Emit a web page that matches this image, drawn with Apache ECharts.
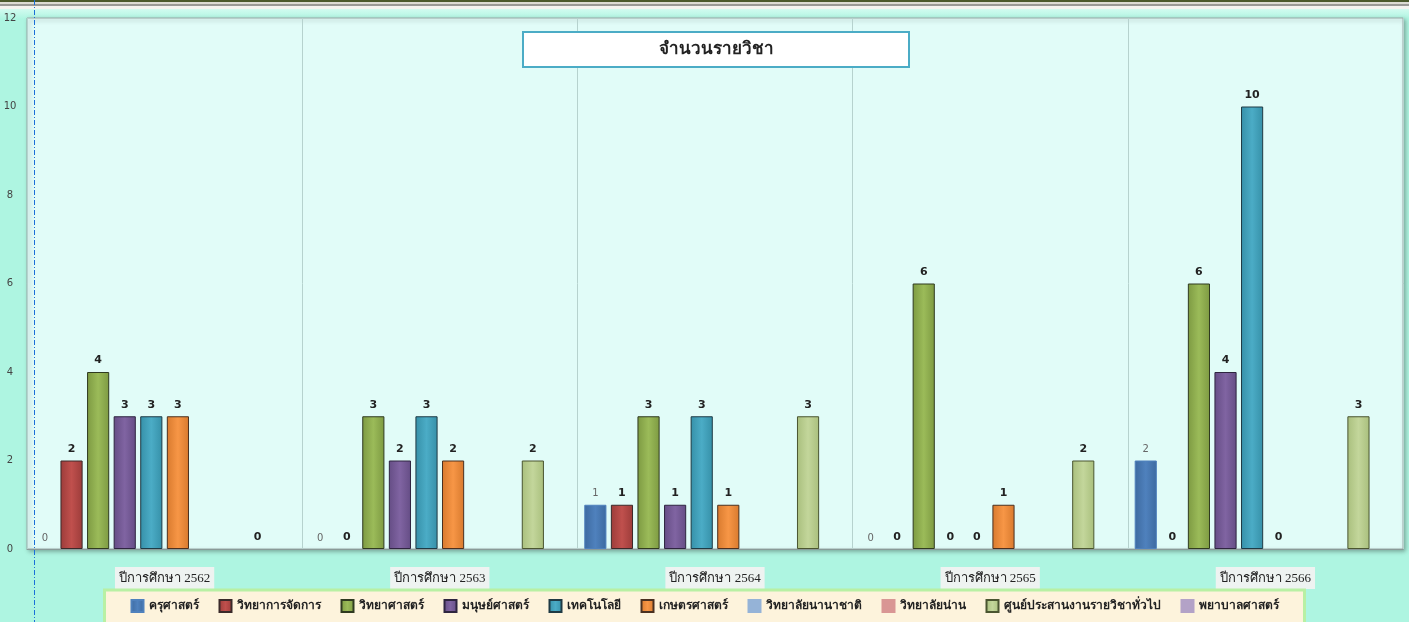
<!DOCTYPE html>
<html>
<head>
<meta charset="utf-8">
<title>จำนวนรายวิชา</title>
<script src="https://cdn.jsdelivr.net/npm/echarts@6/dist/echarts.min.js"></script>
<style>
    html, body { margin: 0; padding: 0; background: #aef5e1; }
    #chart { width: 1409px; height: 622px; }
</style>
</head>
<body>
<div id="chart"></div>
<script>
    // ปีการศึกษา
    const categories = ['ปีการศึกษา 2562', 'ปีการศึกษา 2563', 'ปีการศึกษา 2564', 'ปีการศึกษา 2565', 'ปีการศึกษา 2566'];
    const yTicks = { min: 0, max: 12, interval: 2 };

    // จำนวนรายวิชาแต่ละคณะ ('-' = ไม่มีข้อมูล)
    const education     = [0, 0, 1, 0, 2];    // ครุศาสตร์
    const management    = [2, 0, 1, 0, 0];    // วิทยาการจัดการ
    const science       = [4, 3, 3, 6, 6];    // วิทยาศาสตร์
    const humanities    = [3, 2, 1, 0, 4];    // มนุษย์ศาสตร์
    const technology    = [3, 3, 3, 0, 10];   // เทคโนโลยี
    const agriculture   = [3, 2, 1, 1, 0];    // เกษตรศาสตร์
    const international = ['-', '-', '-', '-', '-'];  // วิทยาลัยนานาชาติ
    const nanCollege    = ['-', '-', '-', '-', '-'];  // วิทยาลัยน่าน
    const generalEd     = [0, 2, 3, 2, 3];    // ศูนย์ประสานงานรายวิชาทั่วไป
    const nursing       = ['-', '-', '-', '-', '-'];  // พยาบาลศาสตร์

    const seriesDefs = [
        { name: 'ครุศาสตร์', data: education, color: '#4f81bd', dark: '#3d6aa0', border: '#4f81bd', light: true },
        { name: 'วิทยาการจัดการ', data: management, color: '#c0504d', dark: '#9c3c3a', border: '#3a2a2a' },
        { name: 'วิทยาศาสตร์', data: science, color: '#9bbb59', dark: '#7d9a42', border: '#2f3a20' },
        { name: 'มนุษย์ศาสตร์', data: humanities, color: '#8064a2', dark: '#654d85', border: '#2e2540' },
        { name: 'เทคโนโลยี', data: technology, color: '#4bacc6', dark: '#3690a8', border: '#1f3a44' },
        { name: 'เกษตรศาสตร์', data: agriculture, color: '#f79646', dark: '#d87a2e', border: '#4a3020' },
        { name: 'วิทยาลัยนานาชาติ', data: international, color: '#95b3d7', dark: '#95b3d7', border: '#95b3d7' },
        { name: 'วิทยาลัยน่าน', data: nanCollege, color: '#d99694', dark: '#d99694', border: '#d99694' },
        { name: 'ศูนย์ประสานงานรายวิชาทั่วไป', data: generalEd, color: '#c3d69b', dark: '#a9bf7d', border: '#4a5530' },
        { name: 'พยาบาลศาสตร์', data: nursing, color: '#b3a2c7', dark: '#b3a2c7', border: '#b3a2c7' }
    ];

    const chart = echarts.init(document.getElementById('chart'));

    const series = seriesDefs.map(s => ({
        name: s.name,
        type: 'bar',
        // แท่งที่มีค่า 0 ไม่ต้องวาดเส้นขอบ (แต่ยังแสดงป้าย 0)
        data: s.data.map(v => v === 0 ? { value: 0, itemStyle: { borderWidth: 0, color: 'transparent' } } : v),
        barGap: '20%',
        barCategoryGap: '5%',
        itemStyle: {
            color: new echarts.graphic.LinearGradient(0, 0, 1, 0, [
                { offset: 0, color: s.dark },
                { offset: 0.5, color: s.color },
                { offset: 1, color: s.dark }
            ]),
            borderColor: s.border,
            borderWidth: 1
        },
        label: {
            show: true,
            position: 'top',
            distance: 6,
            fontSize: s.light ? 10 : 11,
            fontWeight: s.light ? 'normal' : 'bold',
            color: s.light ? '#666' : '#222',
            fontFamily: 'DejaVu Sans, sans-serif'
        }
    }));

    const option = {
        backgroundColor: '#aef5e1',
        color: seriesDefs.map(s => s.color),
        animation: false,
        graphic: [
            { type: 'rect', shape: { x: 0, y: 0, width: 1409, height: 2 }, style: { fill: '#4b5a2c' }, z: 1 },
            { type: 'rect', shape: { x: 0, y: 2, width: 1409, height: 2 }, style: { fill: '#dcdcd4' }, z: 1 },
            { type: 'rect', shape: { x: 0, y: 4, width: 1409, height: 2 }, style: { fill: '#9a9a96' }, z: 1 },
            { type: 'rect', shape: { x: 0, y: 6, width: 1409, height: 3 }, style: { fill: '#f4f4f0' }, z: 1 },
            { type: 'rect', shape: { x: 0, y: 9, width: 1409, height: 10 }, style: {
                fill: new echarts.graphic.LinearGradient(0, 0, 0, 1, [
                    { offset: 0, color: '#d2fbf0' }, { offset: 1, color: '#aef5e1' }
                ]) }, z: -1 },
            { type: 'line', shape: { x1: 34.5, y1: 0, x2: 34.5, y2: 622 },
              style: { stroke: '#1a6fd8', lineWidth: 1, lineDash: [5, 2, 1, 2] }, z: 100 },
            { type: 'rect', shape: { x: 523, y: 32, width: 386, height: 35 },
              style: { fill: '#ffffff', stroke: '#4bacc6', lineWidth: 2 }, z: 50 },
            { type: 'text', x: 716, y: 49.5, z: 51,
              style: { text: 'จำนวนรายวิชา', fontSize: 17, fontWeight: 'bold', fill: '#222',
                       align: 'center', verticalAlign: 'middle', fontFamily: 'sans-serif' } }
        ],
        legend: {
            data: seriesDefs.map(s => s.name),
            left: 'center',
            top: 590,
            padding: [9, 26, 12, 26],
            itemGap: 20,
            itemWidth: 12,
            itemHeight: 12,
            icon: 'rect',
            backgroundColor: '#fdf3dc',
            borderColor: '#b8f0a4',
            borderWidth: 3,
            textStyle: { fontSize: 12, fontWeight: 'bold', color: '#222', fontFamily: 'sans-serif' }
        },
        grid: {
            left: 27,
            right: 6,
            top: 18,
            bottom: 73,
            show: true,
            backgroundColor: '#e1fcf8',
            borderColor: '#9aaaa8',
            borderWidth: 1,
            shadowColor: 'rgba(0,0,0,0.3)',
            shadowBlur: 4,
            shadowOffsetX: 2,
            shadowOffsetY: 2
        },
        xAxis: {
            type: 'category',
            data: categories,
            axisTick: { show: false },
            axisLine: { show: true, lineStyle: { color: '#8a9a98' } },
            splitLine: { show: true, lineStyle: { color: '#b6d2ce', width: 1 } },
            axisLabel: {
                margin: 18,
                fontSize: 13,
                color: '#222',
                fontFamily: 'Liberation Serif, serif',
                backgroundColor: '#eef3f1',
                padding: [5, 4, 4, 4]
            }
        },
        yAxis: {
            type: 'value',
            min: yTicks.min,
            max: yTicks.max,
            interval: yTicks.interval,
            axisLine: { show: false },
            axisTick: { show: false },
            splitLine: { show: false },
            axisLabel: {
                margin: 17,
                align: 'center',
                fontSize: 10,
                color: '#444',
                fontFamily: 'DejaVu Sans, sans-serif'
            }
        },
        series: series
    };

    chart.setOption(option);
</script>
</body>
</html>
